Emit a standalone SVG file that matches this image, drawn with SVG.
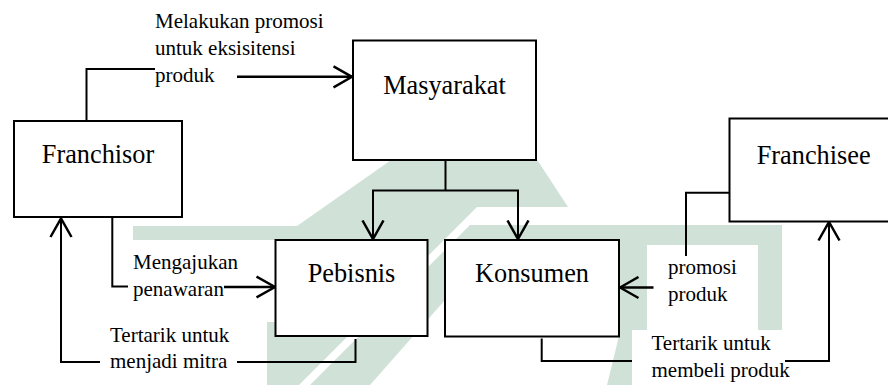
<svg xmlns="http://www.w3.org/2000/svg" width="888" height="385" viewBox="0 0 888 385">
  <style>
    .box { fill: #ffffff; stroke: #000000; stroke-width: 2; }
    .node-text { font-family: "Liberation Serif", "Times New Roman", serif; font-size: 26.3px; fill: #000000; text-anchor: middle; }
    .label { font-family: "Liberation Serif", "Times New Roman", serif; font-size: 21px; fill: #000000; }
    .line { fill: none; stroke: #000000; stroke-width: 2; }
    .shaft { fill: none; stroke: #000000; stroke-width: 2.5; }
    .wm { fill: #d0e2d8; stroke: none; }
    .tb { fill: #ffffff; stroke: none; }
  </style>
  <defs>
    <marker id="arrow" viewBox="0 0 21 24" refX="19.5" refY="12" markerWidth="21" markerHeight="24" markerUnits="userSpaceOnUse" orient="auto">
      <path d="M1,1.5 L19.5,12 L1,22.5" fill="none" stroke="#000000" stroke-width="2.5"/>
    </marker>
  </defs>

  <rect x="0" y="0" width="888" height="385" fill="#ffffff"/>

  <g id="watermark">
    <polygon class="wm" points="133,226 297,226 394,158 536,158 568,207 477,207 299,385 133,385"/>
    <polygon class="wm" points="470,225 782,225 782,330 632,330 632,385 607,385 619,336 445,300 370,385 310,385"/>
  </g>

  <g id="label-backgrounds">
    <rect class="tb" x="128" y="240" width="147" height="82"/>
    <rect class="tb" x="98" y="322" width="169" height="63"/>
    <rect class="tb" x="647" y="245" width="111" height="85"/>
    <rect class="tb" x="632" y="330" width="151" height="55"/>
  </g>

  <g id="connectors">
    <!-- Franchisor -> Masyarakat -->
    <polyline class="line" points="86.5,121 86.5,69 155,69"/>
    <line class="shaft" x1="237" y1="76.8" x2="352" y2="76.8" marker-end="url(#arrow)"/>
    <!-- Masyarakat -> Pebisnis / Konsumen -->
    <polyline class="line" points="445.5,160 445.5,190.5"/>
    <polyline class="line" points="373,239 373,190.5 518,190.5 518,239"/>
    <line class="line" x1="373" y1="200" x2="373" y2="239" marker-end="url(#arrow)"/>
    <line class="line" x1="518" y1="200" x2="518" y2="239" marker-end="url(#arrow)"/>
    <!-- Franchisor -> Pebisnis -->
    <polyline class="line" points="112.3,217 112.3,286.5 128,286.5"/>
    <line class="shaft" x1="224" y1="287" x2="275" y2="287" marker-end="url(#arrow)"/>
    <!-- Pebisnis -> Franchisor -->
    <polyline class="line" points="355.5,339 355.5,362 237,362"/>
    <polyline class="line" points="100,362 61,362 61,230"/>
    <line class="line" x1="61" y1="250" x2="61" y2="218.5" marker-end="url(#arrow)"/>
    <!-- Franchisee -> Konsumen -->
    <polyline class="line" points="729.5,192.7 686,192.7 686,256"/>
    <line class="shaft" x1="653.5" y1="287.5" x2="620" y2="287.5" marker-end="url(#arrow)"/>
    <!-- Konsumen -> Franchisee -->
    <polyline class="line" points="541.7,338.5 541.7,361 632,361"/>
    <polyline class="line" points="785,361 829,361 829,240"/>
    <line class="line" x1="829" y1="250" x2="829" y2="222" marker-end="url(#arrow)"/>
  </g>

  <g id="labels">
    <text class="label" x="155" y="27.5">Melakukan promosi</text>
    <text class="label" x="155" y="54.5">untuk eksisitensi</text>
    <text class="label" x="155" y="81.5">produk</text>
    <text class="label" x="133" y="268.5">Mengajukan</text>
    <text class="label" x="133" y="296">penawaran</text>
    <text class="label" x="110" y="341.5">Tertarik untuk</text>
    <text class="label" x="110" y="368">menjadi mitra</text>
    <text class="label" x="668" y="273.5">promosi</text>
    <text class="label" x="668" y="300.5">produk</text>
    <text class="label" x="651.5" y="350">Tertarik untuk</text>
    <text class="label" x="651.5" y="377">membeli produk</text>
  </g>

  <g id="node-franchisor">
    <rect class="box" x="14" y="121" width="168" height="96"/>
    <text class="node-text" x="98" y="163">Franchisor</text>
  </g>
  <g id="node-masyarakat">
    <rect class="box" x="353" y="40.5" width="183" height="119.5"/>
    <text class="node-text" x="444.5" y="93.5">Masyarakat</text>
  </g>
  <g id="node-pebisnis">
    <rect class="box" x="275.5" y="240" width="152" height="96"/>
    <text class="node-text" x="351.5" y="281.5">Pebisnis</text>
  </g>
  <g id="node-konsumen">
    <rect class="box" x="445" y="240" width="174" height="96.5"/>
    <text class="node-text" x="532" y="281.5">Konsumen</text>
  </g>
  <g id="node-franchisee">
    <rect class="box" x="729.5" y="118.5" width="170" height="103"/>
    <text class="node-text" x="813.7" y="164">Franchisee</text>
  </g>
</svg>
